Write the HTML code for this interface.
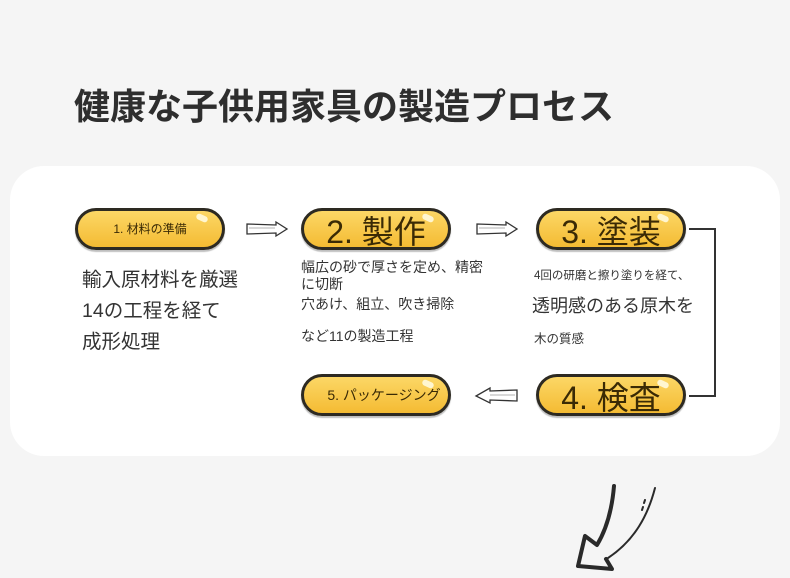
<!DOCTYPE html>
<html><head><meta charset="utf-8"><style>
body{margin:0;width:790px;height:578px;background:#f5f5f5;position:relative;overflow:hidden;font-family:"Liberation Sans","Noto Sans CJK JP",sans-serif;color:#333}
.a{position:absolute;white-space:nowrap}
.title{left:74px;top:78px;font-size:36px;font-weight:bold;color:#2e2e2e;letter-spacing:0}
.card{position:absolute;left:10px;top:166px;width:770px;height:290px;background:#fff;border-radius:34px}
.pill{position:absolute;width:144px;height:36px;border:3px solid #2d2a22;border-radius:22px;background:linear-gradient(#fcd766,#f4bb33);box-shadow:0 2px 1px rgba(0,0,0,.25);text-align:center;color:#3a2a05;overflow:visible}
.pill::after{content:"";position:absolute;right:14px;top:4px;width:12px;height:6px;border-radius:6px;background:#fff6d0;transform:rotate(25deg)}
.t{font-size:17px;color:#333}
</style></head><body>
<div class="a title">健康な子供用家具の製造プロセス</div>
<div class="card"></div>

<div class="pill" style="left:75px;top:208px;line-height:36px;font-size:12px">1. 材料の準備</div>
<div class="pill" style="left:301px;top:208px;line-height:42px;font-size:32px">2. 製作</div>
<div class="pill" style="left:536px;top:208px;line-height:42px;font-size:32px">3. 塗装</div>
<div class="pill" style="left:536px;top:374px;line-height:42px;font-size:32px">4. 検査</div>
<div class="pill" style="left:301px;top:374px;line-height:36px;font-size:14px;text-indent:16px">5. パッケージング</div>

<div class="a t" style="left:82px;top:263px;font-size:19.5px">輸入原材料を厳選</div>
<div class="a t" style="left:82px;top:294px;font-size:19.5px">14の工程を経て</div>
<div class="a t" style="left:82px;top:325px;font-size:19.5px">成形処理</div>

<div class="a t" style="left:301px;top:259px;font-size:14px;line-height:17px">幅広の砂で厚さを定め、精密<br>に切断</div>
<div class="a t" style="left:301px;top:294px;font-size:14px">穴あけ、組立、吹き掃除</div>
<div class="a t" style="left:301px;top:326px;font-size:14px">など11の製造工程</div>

<div class="a t" style="left:534px;top:267px;font-size:11.5px">4回の研磨と擦り塗りを経て、</div>
<div class="a t" style="left:532px;top:292px;font-size:18px">透明感のある原木を</div>
<div class="a t" style="left:534px;top:328px;font-size:12.5px">木の質感</div>

<svg class="a" style="left:0;top:0" width="790" height="578">
<g fill="#fff" stroke="#333" stroke-width="1.3">
<path d="M247 224 L276 225 L276 222 L287 229 L276 236 L276 233 L247 234 Z"/>
<path d="M477 224 L506 225 L506 222 L517 229 L506 236 L506 233 L477 234 Z"/>
<path d="M517 390 L490 391 L490 388 L476 396 L490 403 L490 400 L517 401 Z"/>
</g>
<path d="M249 228 L275 228 M479 228 L505 228 M515 395 L490 395" stroke="#999" stroke-width="0.8"/>
<polyline points="689,229 715,229 715,396 689,396" fill="none" stroke="#333" stroke-width="2"/>
<g fill="none" stroke="#2a2a2a" stroke-linecap="round" stroke-linejoin="round">
<path d="M614 486 C612 510 606 530 597 545 L585 536 L578 566 L612 569 L606 559" stroke-width="4"/>
<path d="M655 488 C648 515 635 540 608 558" stroke-width="2"/>
<path d="M645 500 L644 503 M643 507 L642 510" stroke-width="2"/>
</g>
</svg>
</body></html>
